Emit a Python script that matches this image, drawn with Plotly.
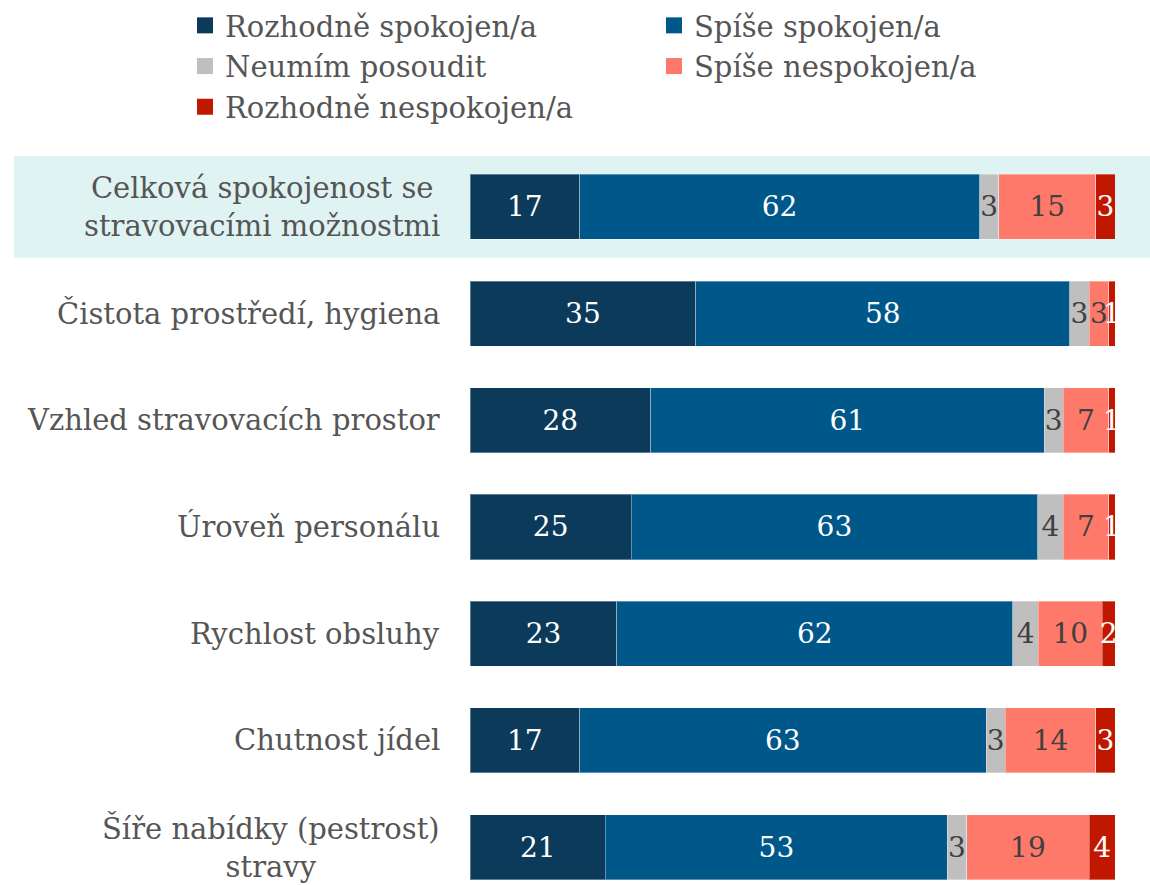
import plotly.graph_objects as go

categories = [
    "Celková spokojenost se<br>stravovacími možnostmi",
    "Čistota prostředí, hygiena",
    "Vzhled stravovacích prostor",
    "Úroveň personálu",
    "Rychlost obsluhy",
    "Chutnost jídel",
    "Šíře nabídky (pestrost)<br>stravy",
]
series_names = ["Rozhodně spokojen/a", "Spíše spokojen/a", "Neumím posoudit",
                "Spíše nespokojen/a", "Rozhodně nespokojen/a"]
rozhodne_spokojen = [17, 35, 28, 25, 23, 17, 21]
spise_spokojen = [62, 58, 61, 63, 62, 63, 53]
neumim = [3, 3, 3, 4, 4, 3, 3]
spise_nespokojen = [15, 3, 7, 7, 10, 14, 19]
rozhodne_nespokojen = [3, 1, 1, 1, 2, 3, 4]

series_values = [rozhodne_spokojen, spise_spokojen, neumim, spise_nespokojen, rozhodne_nespokojen]
colors = ["#0b3a5a", "#00578a", "#bfbfbf", "#ff796a", "#c01800"]
text_colors = ["white", "white", "#404040", "#404040", "white"]

FONT = "DejaVu Serif"
W, H = 1150, 885
L, R, T, B = 470, 35, 150, 0
plot_w = W - L - R
plot_h = H - T - B
step = 107.0
top_val = -(205 - T) / step
bot_val = top_val + plot_h / step

fig = go.Figure()
for name, vals, c, tc in zip(series_names, series_values, colors, text_colors):
    fig.add_trace(go.Bar(
        y=list(range(len(categories))), x=vals, orientation="h", name=name,
        marker=dict(color=c, line=dict(color="rgba(255,255,255,0.35)", width=1)),
        text=vals, texttemplate="%{text}", textposition="inside",
        insidetextanchor="middle", constraintext="none",
        textfont=dict(family=FONT, size=28, color=tc),
        showlegend=False, width=0.61, hoverinfo="skip",
    ))
    fig.add_trace(go.Scatter(
        x=[None], y=[None], mode="markers", name=name,
        marker=dict(symbol="square", size=16, color=c), showlegend=True,
    ))

fig.add_shape(type="rect", xref="paper", yref="y",
              x0=(14 - L) / plot_w, x1=(W - L) / plot_w,
              y0=-0.477, y1=0.477, fillcolor="#dff3f3", line=dict(width=0),
              layer="below")

for i, cat in enumerate(categories):
    fig.add_annotation(text=cat, xref="paper", yref="y", x=-28 / plot_w, y=i,
                       xanchor="right", yanchor="middle", align="center",
                       showarrow=False,
                       font=dict(family=FONT, size=29, color="#555555"))

fig.update_layout(
    width=W, height=H, barmode="stack", barnorm="percent",
    margin=dict(l=L, r=R, t=T, b=B),
    plot_bgcolor="white", paper_bgcolor="white",
    uniformtext=dict(minsize=28, mode="show"),
    xaxis=dict(range=[0, 100], visible=False),
    yaxis=dict(range=[bot_val, top_val], visible=False),
    legend=dict(orientation="h", x=(185 - L) / plot_w, xanchor="left",
                y=1 + (T + 3) / plot_h, yanchor="top", entrywidth=424,
                traceorder="normal",
                font=dict(family=FONT, size=29, color="#555555"),
                itemsizing="trace", tracegroupgap=0, bgcolor="rgba(0,0,0,0)"),
    font=dict(family=FONT),
)
fig.write_html("out.html", config={"displayModeBar": False},
               post_script="document.body.style.margin='0';")
